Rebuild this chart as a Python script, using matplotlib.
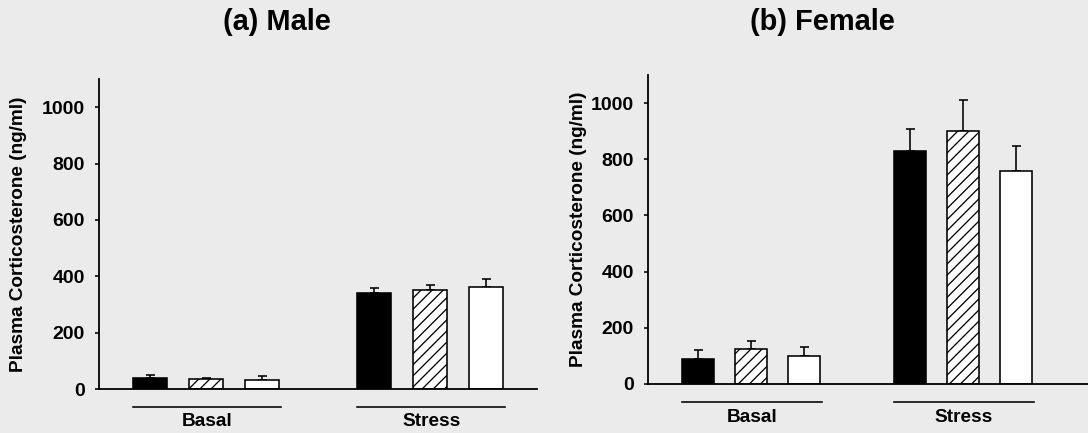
import matplotlib
matplotlib.use("Agg")
import matplotlib.pyplot as plt
from matplotlib.transforms import blended_transform_factory

# ---- data -------------------------------------------------------------
conditions = ["Basal", "Stress"]
positions = [0, 1, 2, 4, 5, 6]          # three bars per condition, one gap

male_means = [38, 34, 32, 340, 351, 363]
male_errs = [12, 6, 13, 17, 19, 28]
female_means = [88, 126, 100, 829, 900, 760]
female_errs = [33, 28, 30, 77, 111, 87]

yticks = [0, 200, 400, 600, 800, 1000]
titles = ["(a) Male", "(b) Female"]
ylabel = "Plasma Corticosterone (ng/ml)"

# ---- styling -----------------------------------------------------------
DPI = 100
W, H = 1088, 433


def px(v):
    """pixels -> points at the figure dpi"""
    return v * 72.0 / DPI


BG = "#ebebeb"
plt.rcParams["font.family"] = ["Liberation Sans", "DejaVu Sans"]
plt.rcParams["font.weight"] = "bold"
plt.rcParams["hatch.linewidth"] = px(1.3)

faces = ["black", "white", "white"] * 2
hatches = ["", "///", ""] * 2

fig = plt.figure(figsize=(W / DPI, H / DPI), dpi=DPI, facecolor=BG)

panels = [
    dict(rect=[99 / W, 44 / H, 438 / W, 310 / H], xlim=(-0.91, 6.91),
         means=male_means, errs=male_errs, labx=-0.164,
         line_y=-0.058, text_y=-0.106, title_x=277 / W),
    dict(rect=[648 / W, 49 / H, 440 / W, 309 / H], xlim=(-0.94, 7.36),
         means=female_means, errs=female_errs, labx=-0.139,
         line_y=-0.057, text_y=-0.11, title_x=822 / W),
]

width = 0.61
for i, p in enumerate(panels):
    ax = fig.add_axes(p["rect"])
    ax.set_facecolor("none")
    ax.bar(positions, p["means"], width=width, color=faces,
           edgecolor="black", linewidth=px(1.6), zorder=2)
    for bar, h in zip(ax.patches, hatches):
        bar.set_hatch(h)
    ax.errorbar(positions, p["means"],
                yerr=[[0] * len(positions), p["errs"]],
                fmt="none", ecolor="black", elinewidth=px(1.6),
                capsize=px(4.5), capthick=px(1.6), zorder=1)

    ax.set_xlim(*p["xlim"])
    ax.set_ylim(0, 1100)
    ax.set_yticks(yticks)
    ax.set_xticks([])
    for s in ("top", "right"):
        ax.spines[s].set_visible(False)
    for s in ("left", "bottom"):
        ax.spines[s].set_linewidth(px(1.8))
    ax.tick_params(axis="y", direction="out", length=px(4), width=px(1.6),
                   pad=px(10), labelsize=px(19.5))
    for t in ax.get_yticklabels():
        t.set_fontweight("bold")
    ax.set_ylabel(ylabel, fontsize=px(19), fontweight="bold")
    ax.yaxis.set_label_coords(p["labx"], 0.5)

    # condition underlines and names below the axis
    trans = blended_transform_factory(ax.transData, ax.transAxes)
    for g, name in enumerate(conditions):
        grp = positions[g * 3:(g + 1) * 3]
        x0 = grp[0] - width / 2
        x1 = grp[-1] + width / 2 + 0.03
        ax.plot([x0, x1], [p["line_y"]] * 2, color="black", lw=px(1.6),
                transform=trans, clip_on=False)
        ax.text(grp[1] + 0.02, p["text_y"], name, transform=trans,
                ha="center", va="center", fontsize=px(19), fontweight="bold")

    fig.text(p["title_x"], 1 - 22 / H, titles[i], ha="center", va="center",
             fontsize=px(29), fontweight="bold")

fig.savefig("out.png", dpi=DPI, facecolor=BG)
